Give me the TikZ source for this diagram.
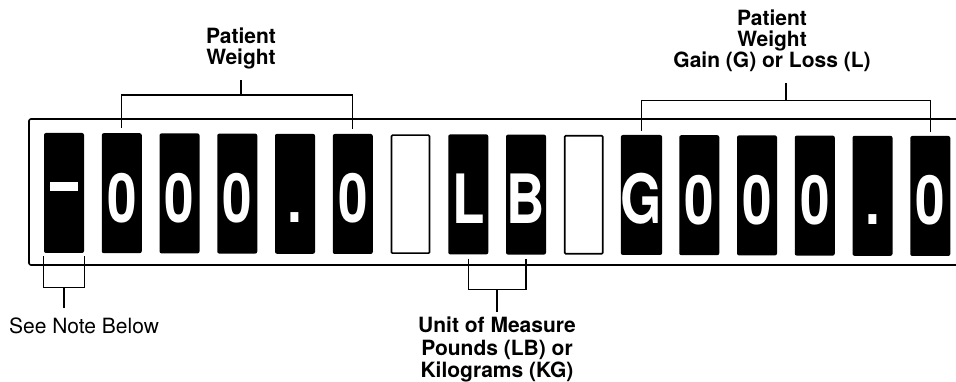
\documentclass[tikz,border=0pt]{standalone}
\usepackage{fontspec}
\setmainfont{TeX Gyre Heros}
\usepackage{tikz}
\usetikzlibrary{positioning,calc}

\newcommand{\dispchar}[1]{\raisebox{-29pt}[0pt][0pt]{\scalebox{0.78}[1]{\fontsize{68}{68}\selectfont\bfseries #1}}}
\newcommand{\minusbar}{\rule[31pt]{36pt}{9pt}}

\begin{document}
\begin{tikzpicture}[x=1pt,y=-1pt,
  cell/.style={rectangle,fill=black,text=white,minimum width=40pt,minimum height=120pt,inner sep=0pt,rounded corners=2pt},
  blankcell/.style={rectangle,draw=black,line width=1.6pt,fill=white,minimum width=38pt,minimum height=118pt,inner sep=0pt,rounded corners=1pt},
  frame/.style={line width=1.6pt},
  brace/.style={line width=1.3pt},
  toplbl/.style={font=\fontsize{21}{21}\selectfont\bfseries,align=center,inner sep=0pt},
  botlbl/.style={font=\fontsize{21}{22.5}\selectfont\bfseries,align=center,inner sep=0pt},
  note/.style={font=\fontsize{21}{21}\selectfont,inner sep=0pt}]
\useasboundingbox (0,0) rectangle (956,382);

% Display frame
\draw[frame,rounded corners=2pt] (956,119) -- (29,119) -- (29,265) -- (956,265);

% Display cells
\foreach \i/\ch in {0/\minusbar,1/0,2/0,3/0,4/.,5/0,7/L,8/B,10/G,11/0,12/0,13/0,14/.,15/0}
  \node[cell] (c\i) at ({64+57.75*\i},{193+0.2*\i}) {\dispchar{\ch}};
\foreach \i in {6,9}
  \node[blankcell] (c\i) at ({64+57.75*\i},{193+0.2*\i}) {};

% Patient weight
\node[toplbl,anchor=north] (wlabel) at (241,28) {Patient\\Weight};
\draw[brace] ([yshift=5pt]c1.north) -- ++(0,-33) coordinate (wbr) -| ([yshift=5pt]c5.north);
\draw[brace,shorten >=10pt] ($(wbr)!0.5!(wbr -| c5.north)$) -- (wbr -| wlabel.south) -- (wlabel.south);

% Weight gain or loss
\node[toplbl,anchor=north] (glabel) at (772,10) {Patient\\Weight\\Gain (G) or Loss (L)};
\draw[brace] ([yshift=4pt]c10.north) -- ++(0,-30) coordinate (gbr) -| ([yshift=4pt]c15.north);
\coordinate (gmid) at ($(gbr)!0.5!(gbr -| c15.north)$);
\draw[brace,shorten >=11pt] (gmid) -- (gmid |- glabel.south);

% Unit of measure
\draw[brace] ([yshift=-4pt]c7.south) -- ++(0,31) coordinate (ubr) -| ([yshift=-4pt]c8.south);
\node[botlbl,anchor=north] (ulabel) at (497,317) {Unit of Measure\\Pounds (LB) or\\Kilograms (KG)};
\coordinate (umid) at ($(ubr)!0.5!(ubr -| c8.south)$);
\draw[brace,shorten >=5pt] (umid) -- (umid |- ulabel.north);

% Sign note
\draw[brace] ([yshift=-3pt]c0.south west) -- ++(0,31) coordinate (nbr) -| ([yshift=-3pt]c0.south east);
\node[note,anchor=base] (notelabel) at (84,333) {See Note Below};
\draw[brace,shorten >=9pt] (nbr -| c0.south) -- (c0.south |- notelabel.north);
\end{tikzpicture}
\end{document}
